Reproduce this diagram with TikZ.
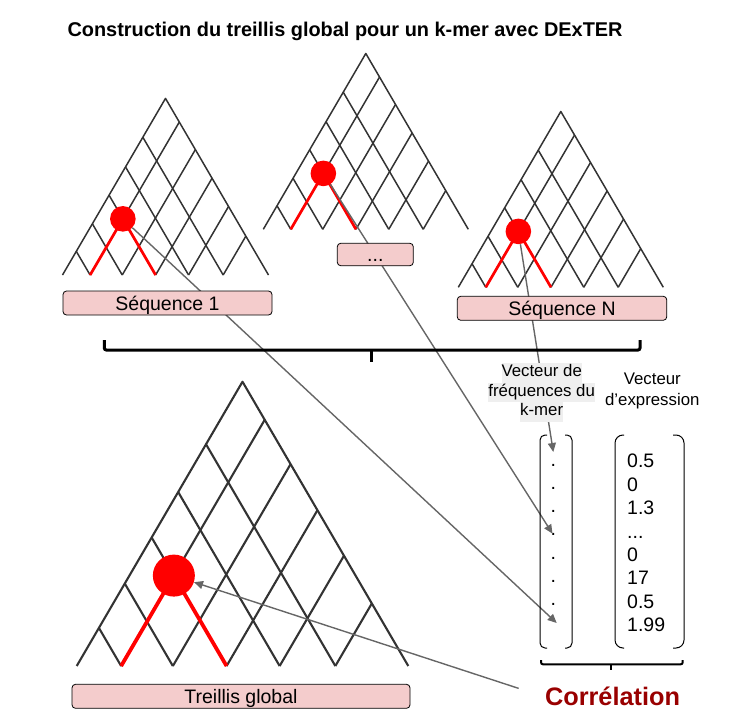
\documentclass[tikz,border=0pt]{standalone}
\usepackage{fontspec}
\setmainfont{Liberation Sans}
\usetikzlibrary{arrows.meta}
\definecolor{boxpink}{HTML}{F4CCCC}
\definecolor{hlgray}{HTML}{EFEFEF}
\definecolor{linkgray}{HTML}{666666}
\definecolor{corred}{HTML}{990000}
% grey band behind one line of text
\newcommand{\hlline}[1]{{\setlength{\fboxsep}{0pt}\colorbox{hlgray}{\strut #1}}}
% one lattice: name, base centre x, base y, half width, height, line width, node size
\newcommand{\treillis}[7]{%
  \begin{scope}[shift={(#2,#3)}, xscale=#4, yscale=-#5]
    \draw[line width=#6pt, black!80, line join=round] (-1,0) -- (0,1) -- (1,0);
    \foreach \f in {0.134,0.29,0.452,0.612,0.78}{
      \draw[line width=#6pt, black!80] (2*\f-1,0) -- (\f,1-\f);
      \draw[line width=#6pt, black!80] (2*\f-1,0) -- (\f-1,\f);
    }
    \draw[line width=1.8*#6pt, red] (-0.732,0) -- (-0.414,0.318) -- (-0.096,0);
    \node[circle, fill=red, inner sep=0pt, minimum size=#7] (#1) at (-0.414,0.318) {};
  \end{scope}}

\begin{document}
\begin{tikzpicture}[x=1pt, y=-1pt,
    seqbox/.style={draw=black, fill=boxpink, rounded corners=3.5pt, line width=0.8pt,
      inner sep=0pt, minimum height=24pt, text height=14pt, text depth=0pt,
      font=\fontsize{19.5}{23.4}\selectfont},
    dotentry/.style={inner sep=0pt, font=\fontsize{19.5}{23.4}\selectfont},
    link/.style={linkgray, line width=1.4pt, -{Triangle[length=9pt,width=8pt]}},
    bracestroke/.style={line width=#1, rounded corners=2pt}]
  \useasboundingbox (0,0) rectangle (738,722);
  % title
  \node[anchor=base west, font=\bfseries\fontsize{19.9}{23}\selectfont] (title) at (64,36.7)
    {Construction du treillis global pour un k-mer avec DExTER};
  % the three sequence lattices and the global one
  \treillis{nodeone}{165.5}{275}{103}{176.6}{1.5}{25.6pt}
  \treillis{nodetwo}{365.8}{229.3}{102.5}{175.8}{1.5}{25.6pt}
  \treillis{noden}{560.8}{287.3}{102.5}{175.8}{1.5}{25.6pt}
  \treillis{nodeglobal}{242.5}{666}{165.8}{284.3}{2.1}{42pt}
  % frequency vector
  \foreach \i in {1,...,7}
    \node[dotentry] (f\i) at (553.3, 441.7+23.3*\i) {.};
  \coordinate (f8) at (556.7,623);
  \node[anchor=base, text=corred, font=\bfseries\fontsize{25.3}{30}\selectfont] (correlation)
    at (612.5,705) {Corrélation};
  % arrows
  \draw[link] (noden) -- ([yshift=13pt]f1.center);
  \draw[link] (nodetwo) -- (f4);
  \draw[link] (nodeone) -- (f8);
  \draw[link, shorten <=24pt] (correlation.west) -- (nodeglobal);
  % labels
  \node[seqbox, minimum width=209pt] (seqone) at (167.5,303) {Séquence 1};
  \node[seqbox, minimum width=76pt, minimum height=22.5pt] (seqdots) at (375.3,254.5) {...};
  \node[seqbox, minimum width=209.5pt] (seqn) at (562,308.3) {Séquence N};
  \node[seqbox, minimum width=338pt] (global) at (241,696.3) {Treillis global};
  \node[align=center, inner sep=0pt, font=\fontsize{16.8}{19.5}\selectfont] (freqlabel)
    at (541.7,392.5) {\hlline{Vecteur de}\\\hlline{fréquences du}\\\hlline{k-mer}};
  \node[align=center, inner sep=0pt, font=\fontsize{16.8}{20.7}\selectfont] (exprlabel)
    at (652.3,391.3) {Vecteur\\d’expression};
  \node[anchor=west, align=left, inner sep=0pt, font=\fontsize{19.5}{23.4}\selectfont] (values)
    at (627,543) {0.5\\0\\1.3\\...\\0\\17\\0.5\\1.99};
  % brackets of the two vectors
  \draw[line width=1pt, rounded corners=5pt] (547,435) -| (540,648) -- (547,648);
  \draw[line width=1pt, rounded corners=5pt] (565,435) -| (572,648) -- (565,648);
  \draw[line width=1pt, rounded corners=8pt] (624,435) -| (615,648) -- (624,648);
  \draw[line width=1pt, rounded corners=8pt] (673,435) -| (684,648) -- (673,648);
  % braces
  \draw[bracestroke=3pt] (104.3,340) |- (640,350) -- (640,340);
  \draw[line width=3pt] (371.7,350) -- (371.7,362);
  \draw[bracestroke=2pt] (541,660) |- (682.7,664.3) -- (682.7,660);
  \draw[line width=2pt] (611,664.3) -- (611,670);
\end{tikzpicture}
\end{document}
